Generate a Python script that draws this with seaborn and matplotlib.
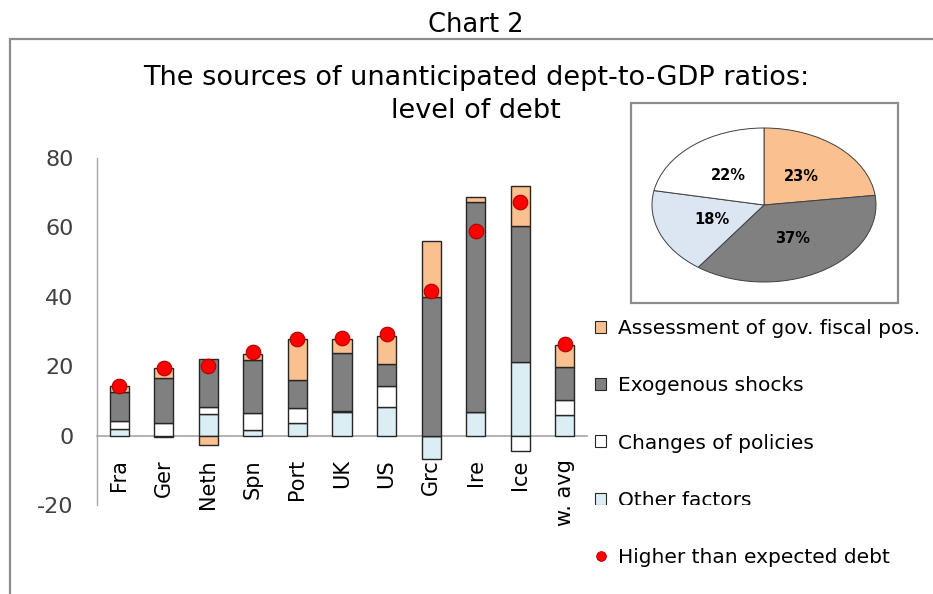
import numpy as np
import pandas as pd
import seaborn as sns
import matplotlib
matplotlib.use("Agg")
import matplotlib.pyplot as plt
from matplotlib.patches import Patch, Rectangle
from matplotlib.lines import Line2D
from matplotlib.transforms import Bbox, TransformedBbox

# ---- data -------------------------------------------------------------
countries = ["Fra", "Ger", "Neth", "Spn", "Port", "UK", "US", "Grc", "Ire", "Ice", "w. avg"]
other_factors = [1.8, -0.4, 6.2, 1.7, 3.7, 6.8, 8.1, -6.8, 6.8, 21.3, 5.8]
policy_changes = [2.4, 3.6, 1.9, 4.9, 4.3, 0.3, 6.3, 0.0, 0.0, -4.4, 4.5]
exogenous_shocks = [8.3, 12.9, 14.0, 15.1, 8.1, 16.8, 6.3, 39.9, 60.6, 39.2, 9.6]
fiscal_assessment = [1.9, 3.1, -2.7, 1.8, 11.7, 3.9, 8.1, 16.3, 1.3, 11.3, 6.2]
higher_debt = [14.4, 19.6, 20.1, 24.2, 27.8, 28.0, 29.2, 41.8, 59.0, 67.4, 26.4]

pie_labels = ["Assessment of gov. fiscal pos.", "Exogenous shocks", "Other factors", "Changes of policies"]
pie_shares = [23, 37, 18, 22]

y_ticks = [-20, 0, 20, 40, 60, 80]
y_tick_labels = ["-20", "0", "20", "40", "60", "80"]

# ---- style ------------------------------------------------------------
sns.set_theme(style="white")
plt.rcParams["font.family"] = ["DejaVu Sans"]
plt.rcParams["axes.unicode_minus"] = False
plt.rcParams["text.color"] = "black"

ORANGE = "#FAC090"
GREY = "#808080"
WHITE = "#FFFFFF"
LIGHTBLUE = "#DAEEF3"
PIE_BLUE = "#DCE6F2"
EDGE = "#262626"
FRAME = "#8C8C8C"

W, H = 933, 594
fig = plt.figure(figsize=(W / 100, H / 100), dpi=100)
fig.patch.set_facecolor("white")


def fx(px):
    return px / W


def fy(py):
    return 1 - py / H


# ---- stacked bars -----------------------------------------------------
ax = fig.add_axes([fx(97), fy(505), fx(587) - fx(97), fy(158) - fy(505)])
ax.set_facecolor("none")

components = [
    ("Other factors", other_factors, LIGHTBLUE),
    ("Changes of policies", policy_changes, WHITE),
    ("Exogenous shocks", exogenous_shocks, GREY),
    ("Assessment of gov. fiscal pos.", fiscal_assessment, ORANGE),
]

pos_cum = np.zeros(len(countries))
neg_cum = np.zeros(len(countries))
for name, vals, col in components:
    vals = np.asarray(vals, dtype=float)
    bottoms = np.where(vals >= 0, pos_cum, neg_cum)
    df = pd.DataFrame({"country": countries, "value": vals})
    sns.barplot(data=df, x="country", y="value", bottom=bottoms, color=col,
                saturation=1, width=0.43, edgecolor=EDGE, linewidth=1.0,
                errorbar=None, zorder=2, ax=ax)
    pos_cum = pos_cum + np.where(vals >= 0, vals, 0)
    neg_cum = neg_cum + np.where(vals < 0, vals, 0)

dots = pd.DataFrame({"country": countries, "debt": higher_debt})
sns.stripplot(data=dots, x="country", y="debt", jitter=False, size=10.5,
              color="#FF0000", edgecolor="#B00000", linewidth=0.8,
              zorder=4, ax=ax)

ax.set_xlim(-0.5, len(countries) - 0.5)
ax.set_ylim(-20, 80)
ax.set_yticks(y_ticks)
ax.set_yticklabels(y_tick_labels)
ax.set_xlabel("")
ax.set_ylabel("")

for s in ["top", "right"]:
    ax.spines[s].set_visible(False)
ax.spines["left"].set_color("#A6A6A6")
ax.spines["left"].set_linewidth(1.0)
ax.spines["bottom"].set_position(("data", 0))
ax.spines["bottom"].set_color("#A6A6A6")
ax.spines["bottom"].set_linewidth(1.2)
ax.spines["bottom"].set_zorder(1.8)

ax.tick_params(axis="y", length=0, pad=17, labelsize=16, labelcolor="#404040")
ax.tick_params(axis="x", length=0, pad=17, labelsize=15, labelcolor="#000000")
for lab in ax.get_xticklabels():
    lab.set_rotation(90)
    lab.set_va("top")
    lab.set_ha("center")
ax.xaxis.set_zorder(1.5)

# ---- legend -------------------------------------------------------------
handles = [
    Patch(facecolor=ORANGE, edgecolor=EDGE, linewidth=0.8),
    Patch(facecolor=GREY, edgecolor=EDGE, linewidth=0.8),
    Patch(facecolor=WHITE, edgecolor=EDGE, linewidth=0.8),
    Patch(facecolor=LIGHTBLUE, edgecolor=EDGE, linewidth=0.8),
    Line2D([], [], marker="o", linestyle="none", markersize=7,
           markerfacecolor="#FF0000", markeredgecolor="#B00000", markeredgewidth=0.6),
]
labels = ["Assessment of gov. fiscal pos.", "Exogenous shocks",
          "Changes of policies", "Other factors", "Higher than expected debt"]
leg = fig.legend(handles, labels, loc="upper left",
                 bbox_to_anchor=(fx(595), fy(319)), frameon=False,
                 fontsize=14.5, handlelength=0.55, handleheight=0.55,
                 handletextpad=0.6, labelspacing=1.9, borderpad=0,
                 borderaxespad=0, labelcolor="black")
# entry that runs past the plot area is cut at its lower edge
clip = TransformedBbox(Bbox([[0, fy(505)], [1, 1]]), fig.transFigure)
for art in (leg.get_texts()[3], leg.legend_handles[3]):
    art.set_clip_box(clip)
    art.set_clip_on(True)

# ---- pie inset ------------------------------------------------------------
box = Rectangle((fx(631), fy(303)), fx(898) - fx(631), fy(103) - fy(303),
                transform=fig.transFigure, facecolor="white", edgecolor=FRAME,
                linewidth=1.6, zorder=-1)
fig.add_artist(box)

pax = fig.add_axes([fx(652), fy(282), fx(876) - fx(652), fy(128) - fy(282)], zorder=3)
wedges, texts, autotexts = pax.pie(
    pie_shares, colors=[ORANGE, GREY, PIE_BLUE, WHITE], startangle=90,
    counterclock=False, autopct="%d%%", pctdistance=0.5,
    wedgeprops=dict(edgecolor="#404040", linewidth=0.7),
    textprops=dict(fontsize=10.5, fontweight="bold", color="#000000"))
pax.set_aspect("auto")
pax.set_xlim(-1, 1)
pax.set_ylim(-1, 1)
pax.axis("off")
for w in wedges:
    w.set_clip_on(False)

# ---- titles and outer frame ----------------------------------------------
fig.text(fx(476), fy(25), "Chart 2", ha="center", va="center", fontsize=18.5, color="black")
fig.text(fx(476), fy(78), "The sources of unanticipated dept-to-GDP ratios:",
         ha="center", va="center", fontsize=19.5, color="black")
fig.text(fx(476), fy(111), "level of debt", ha="center", va="center",
         fontsize=19.5, color="black")

fig.add_artist(Line2D([fx(10), fx(10)], [fy(39), 0], transform=fig.transFigure,
                      color=FRAME, linewidth=1.6))
fig.add_artist(Line2D([fx(10), 1], [fy(39), fy(39)], transform=fig.transFigure,
                      color=FRAME, linewidth=1.6))

fig.savefig("out.png", dpi=100, facecolor="white")
